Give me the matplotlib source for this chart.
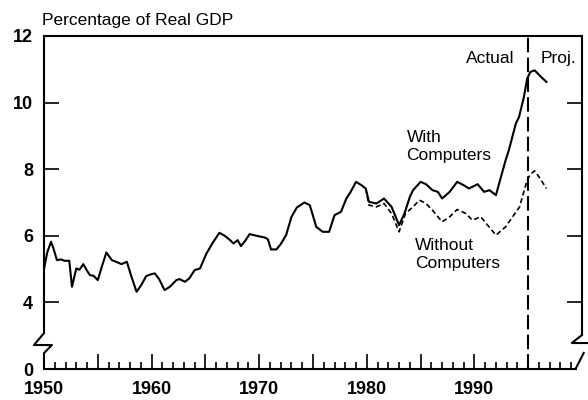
import matplotlib
matplotlib.use("Agg")
import matplotlib.pyplot as plt
from matplotlib.lines import Line2D
from matplotlib.ticker import FixedLocator, FixedFormatter

plt.rcParams["font.family"] = ["Liberation Sans", "DejaVu Sans"]

# Investment share, percent of real GDP
years_with = [1950.0, 1950.3, 1950.65, 1950.9, 1951.2, 1951.6, 1951.9, 1952.35, 1952.6,
              1953.0, 1953.3, 1953.65, 1954.0, 1954.27, 1954.6, 1955.0, 1955.4, 1955.8,
              1956.3, 1956.7, 1957.2, 1957.7, 1958.1, 1958.6, 1959.0, 1959.5, 1960.0,
              1960.3, 1960.7, 1961.2, 1961.7, 1962.3, 1962.6, 1963.1, 1963.5, 1964.0,
              1964.5, 1965.1, 1965.7, 1966.3, 1966.8, 1967.3, 1967.6, 1968.0, 1968.3,
              1968.7, 1969.1, 1969.9, 1970.5, 1970.8, 1971.1, 1971.6, 1972.0, 1972.5,
              1973.0, 1973.5, 1974.2, 1974.7, 1975.0, 1975.3, 1975.9, 1976.5, 1977.0,
              1977.6, 1978.1, 1978.5, 1979.0, 1979.5, 1979.9, 1980.2, 1980.9, 1981.6,
              1982.3, 1983.0, 1983.5, 1984.0, 1984.3, 1985.0, 1985.5, 1986.1, 1986.6,
              1987.0, 1987.7, 1988.4, 1989.0, 1989.5, 1990.3, 1990.9, 1991.4, 1992.0,
              1992.3, 1992.9, 1993.2, 1993.85, 1994.15, 1994.6, 1994.9, 1995.2, 1995.6,
              1996.2, 1996.7]
gdp_with = [5.0, 5.5, 5.82, 5.6, 5.27, 5.29, 5.25, 5.25, 4.47,
            5.02, 4.98, 5.15, 4.95, 4.82, 4.8, 4.67, 5.1, 5.5,
            5.27, 5.22, 5.15, 5.22, 4.8, 4.32, 4.5, 4.79, 4.85,
            4.87, 4.7, 4.37, 4.47, 4.67, 4.7, 4.62, 4.72, 4.97,
            5.02, 5.47, 5.8, 6.09, 6.0, 5.87, 5.77, 5.87, 5.69,
            5.85, 6.05, 5.99, 5.95, 5.9, 5.59, 5.59, 5.75, 6.02,
            6.57, 6.85, 7.0, 6.92, 6.6, 6.27, 6.12, 6.12, 6.62,
            6.72, 7.12, 7.32, 7.62, 7.52, 7.42, 7.02, 6.97, 7.12,
            6.87, 6.32, 6.67, 7.17, 7.37, 7.62, 7.55, 7.37, 7.32,
            7.12, 7.32, 7.62, 7.52, 7.42, 7.55, 7.32, 7.37, 7.22,
            7.57, 8.27, 8.57, 9.37, 9.57, 10.17, 10.72, 10.92, 10.97,
            10.77, 10.62]

years_without = [1979.9, 1980.2, 1980.9, 1981.6, 1982.3, 1983.0, 1983.6, 1984.3, 1984.9,
                 1985.5, 1986.1, 1987.0, 1987.7, 1988.4, 1989.2, 1989.8, 1990.6, 1991.1,
                 1992.0, 1992.9, 1994.2, 1994.9, 1995.2, 1995.6, 1996.0, 1996.7]
gdp_without = [7.42, 6.92, 6.87, 6.97, 6.67, 6.12, 6.67, 6.87, 7.07,
               6.97, 6.77, 6.42, 6.57, 6.79, 6.67, 6.47, 6.57, 6.37,
               6.02, 6.27, 6.87, 7.67, 7.85, 7.95, 7.77, 7.42]

ytick_vals = [2, 4, 6, 8, 10, 12]
ytick_labels = ["0", "4", "6", "8", "10", "12"]
split_year = 1995

fig = plt.figure(figsize=(5.88, 4.0), dpi=100)
ax = fig.add_axes([44 / 588, 1 - 369 / 400, 538 / 588, 333 / 400])

ax.plot(years_with, gdp_with, color="black", lw=1.5, solid_joinstyle="round")
ax.plot(years_without, gdp_without, color="black", lw=1.2, dashes=(3, 1.8))
ax.axvline(split_year, color="black", lw=1.5, dashes=(7, 2.5))

ax.set_xlim(1950, 2000)
ax.set_ylim(2, 12)

# spines with axis breaks
for s in ax.spines.values():
    s.set_linewidth(1.5)
ax.spines["left"].set_bounds(3.08, 12)
ax.spines["right"].set_bounds(3.02, 12)
ax.spines["bottom"].set_bounds(1950, 1999.4)
brk = dict(color="black", lw=1.5, clip_on=False, solid_capstyle="butt")
ax.add_line(Line2D([1950, 1949.07, 1950.74, 1950, 1950],
                   [3.08, 2.72, 2.72, 2.48, 2.0], **brk))
ax.add_line(Line2D([2000, 1999.05, 2000.6], [3.02, 2.78, 2.78], **brk))
ax.add_line(Line2D([1999.4, 2000.2], [2.0, 2.51], **brk))

# ticks
major_x = list(range(1950, 2000, 5))
minor_x = [y for y in range(1951, 2000) if y % 5 != 0]
ax.xaxis.set_major_locator(FixedLocator(major_x))
ax.xaxis.set_major_formatter(FixedFormatter([str(y) if y % 10 == 0 else "" for y in major_x]))
ax.xaxis.set_minor_locator(FixedLocator(minor_x))
ax.tick_params(axis="x", which="major", direction="in", length=11, width=1.2,
               pad=9, labelsize=13)
ax.tick_params(axis="x", which="minor", direction="in", length=5, width=1.2)

ax.set_yticks(ytick_vals)
ax.set_yticklabels(ytick_labels)
ax.tick_params(axis="y", direction="in", length=11, width=1.2, pad=8,
               labelsize=13, right=True)
for lab in ax.get_xticklabels() + ax.get_yticklabels():
    lab.set_fontweight("bold")
yt = ax.yaxis.get_major_ticks()
yt[0].tick2line.set_visible(False)
yt[0].tick1line.set_visible(False)

# labels
fig.text(42 / 588, 1 - 25 / 400, "Percentage of Real GDP", fontsize=12.5,
         ha="left", va="baseline")
ax.text(1993.7, 11.18, "Actual", fontsize=12.5, ha="right", va="baseline")
ax.text(1996.2, 11.18, "Proj.", fontsize=12.5, ha="left", va="baseline")
ax.text(1983.7, 8.83, "With", fontsize=12.5, ha="left", va="baseline")
ax.text(1983.7, 8.28, "Computers", fontsize=12.5, ha="left", va="baseline")
ax.text(1984.5, 5.57, "Without", fontsize=12.5, ha="left", va="baseline")
ax.text(1984.5, 5.02, "Computers", fontsize=12.5, ha="left", va="baseline")

fig.savefig("out.png", dpi=100, facecolor="white")
